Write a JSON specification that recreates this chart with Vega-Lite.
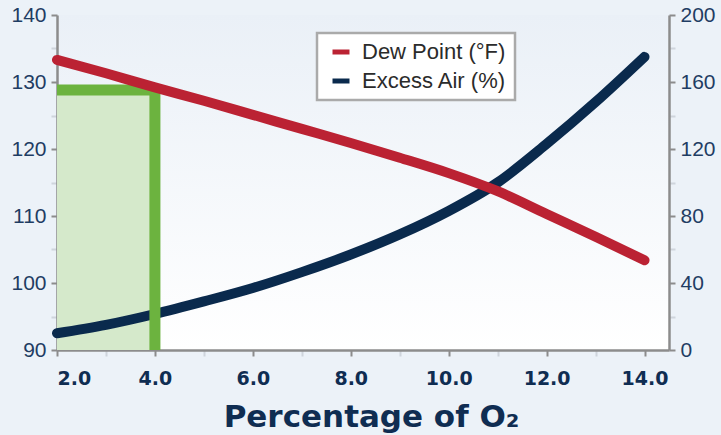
{
  "$schema": "https://vega.github.io/schema/vega-lite/v6.json",
  "width": 612,
  "height": 335,
  "autosize": {"type": "none"},
  "padding": {"left": 57, "top": 15, "right": 52, "bottom": 85},
  "background": "#ecf2f8",
  "config": {
    "font": "Liberation Sans",
    "view": {"stroke": null, "fill": {"gradient": "linear", "x1": 0, "y1": 0, "x2": 0, "y2": 1, "stops": [{"offset": 0, "color": "#eaf0f7"}, {"offset": 1, "color": "#ffffff"}]}},
    "axis": {"grid": false, "domainColor": "#8c8c8c", "domainWidth": 2.5, "tickSize": 6, "tickWidth": 2}
  },
  "datasets": {
    "dew": [
      {"o2": 2, "value": 133.3, "series": "Dew Point (°F)"},
      {"o2": 3, "value": 131.3, "series": "Dew Point (°F)"},
      {"o2": 4, "value": 129.2, "series": "Dew Point (°F)"},
      {"o2": 5, "value": 127.2, "series": "Dew Point (°F)"},
      {"o2": 6, "value": 125.1, "series": "Dew Point (°F)"},
      {"o2": 7, "value": 123.0, "series": "Dew Point (°F)"},
      {"o2": 8, "value": 120.9, "series": "Dew Point (°F)"},
      {"o2": 9, "value": 118.7, "series": "Dew Point (°F)"},
      {"o2": 10, "value": 116.4, "series": "Dew Point (°F)"},
      {"o2": 11, "value": 113.7, "series": "Dew Point (°F)"},
      {"o2": 12, "value": 110.3, "series": "Dew Point (°F)"},
      {"o2": 13, "value": 106.9, "series": "Dew Point (°F)"},
      {"o2": 14, "value": 103.4, "series": "Dew Point (°F)"}
    ],
    "air": [
      {"o2": 2, "value": 10, "series": "Excess Air (%)"},
      {"o2": 3, "value": 15, "series": "Excess Air (%)"},
      {"o2": 4, "value": 21.5, "series": "Excess Air (%)"},
      {"o2": 5, "value": 29, "series": "Excess Air (%)"},
      {"o2": 6, "value": 37, "series": "Excess Air (%)"},
      {"o2": 7, "value": 46.5, "series": "Excess Air (%)"},
      {"o2": 8, "value": 57, "series": "Excess Air (%)"},
      {"o2": 9, "value": 69, "series": "Excess Air (%)"},
      {"o2": 10, "value": 83, "series": "Excess Air (%)"},
      {"o2": 11, "value": 100, "series": "Excess Air (%)"},
      {"o2": 12, "value": 123, "series": "Excess Air (%)"},
      {"o2": 13, "value": 148, "series": "Excess Air (%)"},
      {"o2": 14, "value": 175, "series": "Excess Air (%)"}
    ],
    "box": [{"x1": 2, "x2": 4, "y1": 90, "y2": 128.8}],
    "path": [
      {"x": 2, "y": 128.8, "o": 1},
      {"x": 4, "y": 128.8, "o": 2},
      {"x": 4, "y": 90, "o": 3}
    ]
  },
  "layer": [
    {
      "data": {"name": "box"},
      "mark": {"type": "rect", "color": "#d5e9cb", "opacity": 1},
      "encoding": {
        "x": {
          "field": "x1", "type": "quantitative",
          "scale": {"domain": [2, 14.5], "nice": false, "zero": false},
          "axis": {
            "title": "Percentage of O₂", "values": [2, 3, 4, 5, 6, 7, 8, 9, 10, 11, 12, 13, 14],
            "format": ".1f",
            "labelExpr": "datum.value % 2 === 0 ? datum.label : ''",
            "labelFont": "DejaVu Sans", "labelFontSize": 19, "labelFontWeight": "bold", "labelColor": "#0f2d52", "labelPadding": 13,
            "titleFont": "DejaVu Sans", "titleFontSize": 31, "titleFontWeight": "bold", "titleColor": "#0f2d52", "titlePadding": 14,
            "titleX": 314, "titleAlign": "center",
            "tickColor": {"condition": {"test": "datum.value % 2 === 0", "value": "#8c8c8c"}, "value": "#cfd5dc"}
          }
        },
        "x2": {"field": "x2"},
        "y": {"field": "y1", "type": "quantitative", "scale": {"domain": [90, 140], "nice": false, "zero": false}, "axis": null},
        "y2": {"field": "y2"}
      }
    },
    {
      "data": {"name": "air"},
      "mark": {"type": "line", "strokeWidth": 10, "strokeCap": "round", "interpolate": "monotone"},
      "encoding": {
        "x": {"field": "o2", "type": "quantitative"},
        "y": {
          "field": "value", "type": "quantitative",
          "scale": {"domain": [0, 200], "nice": false},
          "axis": {
            "orient": "right", "title": null, "values": [0, 20, 40, 60, 80, 100, 120, 140, 160, 180, 200],
            "labelExpr": "datum.value % 40 === 0 ? datum.label : ''",
            "labelFontSize": 21, "labelColor": "#1f3d63", "labelPadding": 5,
            "tickColor": {"condition": {"test": "datum.value % 40 === 0", "value": "#8c8c8c"}, "value": "#cfd5dc"}
          }
        },
        "color": {
          "field": "series", "type": "nominal",
          "scale": {"domain": ["Dew Point (°F)", "Excess Air (%)"], "range": ["#bb2233", "#0a2a4d"]},
          "legend": {
            "title": null, "orient": "none", "legendX": 260, "legendY": 18,
            "symbolType": "stroke", "symbolSize": 289, "symbolStrokeWidth": 5, "symbolOffset": 5,
            "labelFontSize": 22, "labelColor": "#2b2b2b", "labelOffset": 10,
            "rowPadding": 7, "padding": 8, "strokeColor": "#aaaaaa", "fillColor": "#ffffff",
            "encode": {"legend": {"update": {"strokeWidth": {"value": 2.5}}}}
          }
        }
      }
    },
    {
      "data": {"name": "path"},
      "mark": {"type": "line", "color": "#6cb33f", "strokeWidth": 11, "strokeJoin": "round", "strokeCap": "butt"},
      "encoding": {
        "x": {"field": "x", "type": "quantitative"},
        "y": {"field": "y", "type": "quantitative", "scale": {"domain": [90, 140], "nice": false, "zero": false}, "axis": null},
        "order": {"field": "o", "type": "quantitative"}
      }
    },
    {
      "data": {"name": "dew"},
      "mark": {"type": "line", "strokeWidth": 10, "strokeCap": "round", "interpolate": "monotone"},
      "encoding": {
        "x": {"field": "o2", "type": "quantitative"},
        "y": {
          "field": "value", "type": "quantitative",
          "scale": {"domain": [90, 140], "nice": false, "zero": false},
          "axis": {
            "orient": "left", "title": null, "values": [90, 95, 100, 105, 110, 115, 120, 125, 130, 135, 140],
            "labelExpr": "datum.value % 10 === 0 ? datum.label : ''",
            "labelFontSize": 21, "labelColor": "#1f3d63", "labelPadding": 5,
            "tickColor": {"condition": {"test": "datum.value % 10 === 0", "value": "#8c8c8c"}, "value": "#cfd5dc"}
          }
        },
        "color": {"field": "series", "type": "nominal", "scale": {"domain": ["Dew Point (°F)", "Excess Air (%)"], "range": ["#bb2233", "#0a2a4d"]}}
      }
    }
  ],
  "resolve": {"scale": {"y": "independent"}}
}
